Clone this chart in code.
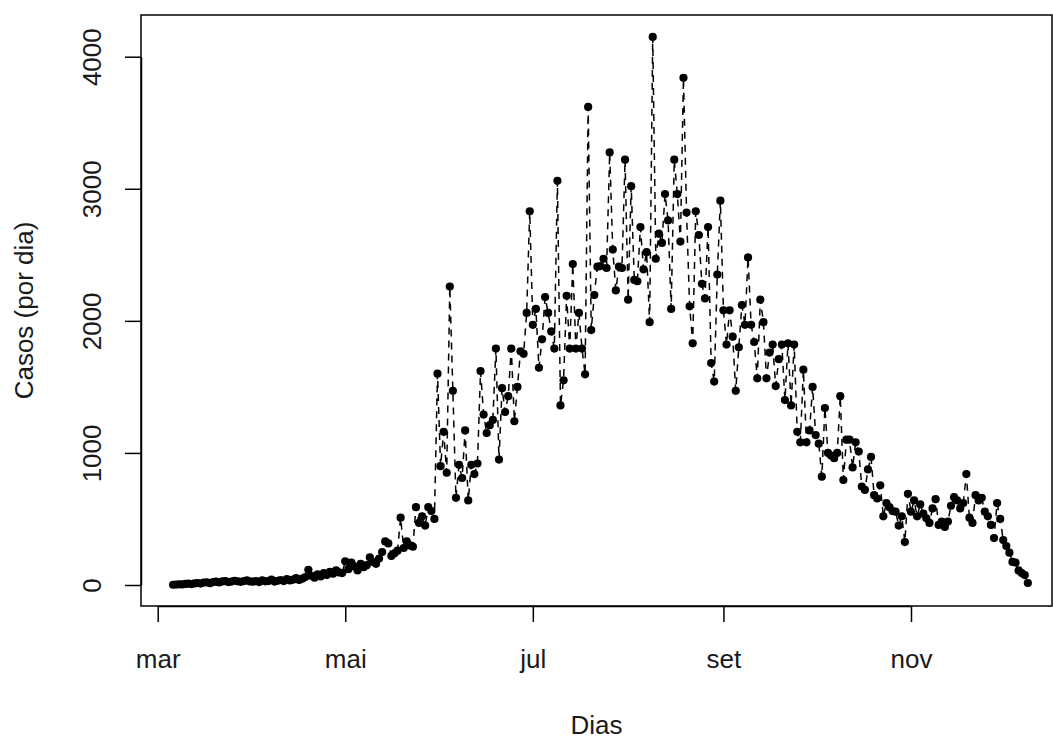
<!DOCTYPE html>
<html>
<head>
<meta charset="utf-8">
<script src="https://cdn.jsdelivr.net/npm/d3@7"></script>
<style>
  body { margin: 0; background: #fff; }
  text { font-family: "Liberation Sans", Arial, sans-serif; }
</style>
</head>
<body>
<div id="chart"></div>
<script>
// daily cases, one array per month (march starts on the 6th)
let mar = [2, 3, 5, 4, 8, 10, 7, 12, 15, 11, 18, 20, 14, 22, 25, 19, 27, 30, 22, 26, 32, 28, 24, 30, 35, 27]
let abr = [25, 30, 22, 35, 28, 30, 40, 26, 32, 38, 30, 45, 35, 40, 52, 38, 48, 60, 115, 70, 55, 80, 65, 90, 75, 100, 85, 110, 95, 90]
let mai = [180, 120, 170, 140, 110, 160, 135, 150, 210, 175, 160, 200, 250, 330, 315, 220, 240, 260, 510, 280, 330, 300, 290, 590, 470, 520, 450, 590, 560, 500, 1600]
let jun = [900, 1160, 850, 2260, 1470, 660, 910, 810, 1170, 640, 910, 840, 920, 1620, 1290, 1150, 1210, 1250, 1790, 950, 1490, 1310, 1430, 1790, 1240, 1500, 1770, 1750, 2060, 2830]
let jul = [1970, 2090, 1645, 1860, 2180, 2060, 1920, 1790, 3060, 1360, 1550, 2190, 1790, 2430, 1790, 2060, 1790, 1595, 3620, 1930, 2195, 2410, 2415, 2470, 2400, 3275, 2540, 2230, 2410, 2400, 3220]
let ago = [2160, 3020, 2310, 2300, 2710, 2390, 2520, 1990, 4150, 2470, 2660, 2590, 2960, 2760, 2090, 3220, 2960, 2600, 3840, 2820, 2110, 1830, 2830, 2650, 2280, 2170, 2710, 1680, 1540, 2350, 2910]
let set = [2080, 1820, 2080, 1880, 1470, 1800, 2120, 1970, 2480, 1970, 1840, 1565, 2160, 1990, 1565, 1760, 1820, 1506, 1710, 1820, 1400, 1830, 1360, 1820, 1160, 1080, 1630, 1080, 1170, 1500]
let out = [1135, 1070, 820, 1340, 1000, 980, 960, 1000, 1430, 795, 1100, 1100, 890, 1080, 1010, 745, 720, 875, 970, 680, 655, 755, 520, 620, 590, 560, 555, 450, 520, 325, 690]
let nov = [555, 640, 520, 610, 540, 505, 470, 580, 650, 455, 480, 440, 480, 600, 665, 640, 580, 620, 840, 510, 470, 680, 640, 660, 555, 520, 455, 355, 620, 500]
let dez = [340, 295, 245, 175, 170, 110, 90, 75, 15]

let monthStarts = [
  [new Date(2020, 2, 6), mar],
  [new Date(2020, 3, 1), abr],
  [new Date(2020, 4, 1), mai],
  [new Date(2020, 5, 1), jun],
  [new Date(2020, 6, 1), jul],
  [new Date(2020, 7, 1), ago],
  [new Date(2020, 8, 1), set],
  [new Date(2020, 9, 1), out],
  [new Date(2020, 10, 1), nov],
  [new Date(2020, 11, 1), dez]
]

let tickDates = [new Date(2020, 2, 1), new Date(2020, 4, 1), new Date(2020, 6, 1), new Date(2020, 8, 1), new Date(2020, 10, 1)]
let tickLabels = ['mar', 'mai', 'jul', 'set', 'nov']
let yTicks = [0, 1000, 2000, 3000, 4000]

let datapoints = []
monthStarts.forEach(function(m) {
  m[1].forEach(function(v, i) {
    datapoints.push({ date: d3.timeDay.offset(m[0], i), cases: v })
  })
})

// plot box
let width = 1053
let height = 740
let box = { left: 141, top: 15, right: 1052, bottom: 606 }
let fontSize = 26
let textColor = '#1a1a1a'

let svg = d3
  .select('#chart')
  .append('svg')
  .attr('width', width)
  .attr('height', height)

let xPositionScale = d3
  .scaleTime()
  .domain([tickDates[0], tickDates[4]])
  .range([157.7, 911])

let yPositionScale = d3
  .scaleLinear()
  .domain([0, 4000])
  .range([585, 56.7])

let line = d3
  .line()
  .x(d => xPositionScale(d.date))
  .y(d => yPositionScale(d.cases))

svg
  .append('path')
  .datum(datapoints)
  .attr('d', line)
  .attr('fill', 'none')
  .attr('stroke', '#000')
  .attr('stroke-width', 1.5)
  .attr('stroke-dasharray', '7,6')

svg
  .selectAll('.point')
  .data(datapoints)
  .enter()
  .append('circle')
  .attr('class', 'point')
  .attr('cx', d => xPositionScale(d.date))
  .attr('cy', d => yPositionScale(d.cases))
  .attr('r', 4.1)
  .attr('fill', '#000')

svg
  .append('rect')
  .attr('x', box.left)
  .attr('y', box.top)
  .attr('width', box.right - box.left)
  .attr('height', box.bottom - box.top)
  .attr('fill', 'none')
  .attr('stroke', '#000')
  .attr('stroke-width', 1.5)

// axes
let xAxis = d3
  .axisBottom(xPositionScale)
  .tickValues(tickDates)
  .tickFormat((d, i) => tickLabels[i])
  .tickSize(16)
  .tickSizeOuter(0)

let xg = svg
  .append('g')
  .attr('class', 'axis x-axis')
  .attr('transform', `translate(0,${box.bottom})`)
  .call(xAxis)

xg.selectAll('path, line').attr('stroke', '#000').attr('stroke-width', 1.5)
xg.selectAll('text')
  .attr('y', 62)
  .attr('dy', 0)
  .attr('font-size', fontSize)
  .attr('fill', textColor)
  .attr('font-family', '"Liberation Sans", Arial, sans-serif')

let yAxis = d3
  .axisLeft(yPositionScale)
  .tickValues(yTicks)
  .tickFormat(d3.format('d'))
  .tickSize(16)
  .tickSizeOuter(0)

let yg = svg
  .append('g')
  .attr('class', 'axis y-axis')
  .attr('transform', `translate(${box.left},0)`)
  .call(yAxis)

yg.selectAll('path, line').attr('stroke', '#000').attr('stroke-width', 1.5)
yg.selectAll('text')
  .attr('transform', 'rotate(-90)')
  .attr('x', 0)
  .attr('y', -40)
  .attr('dy', 0)
  .attr('text-anchor', 'middle')
  .attr('font-size', fontSize)
  .attr('fill', textColor)
  .attr('font-family', '"Liberation Sans", Arial, sans-serif')

// titles
svg
  .append('text')
  .text('Dias')
  .attr('x', (box.left + box.right) / 2)
  .attr('y', 734)
  .attr('text-anchor', 'middle')
  .attr('font-size', fontSize)
  .attr('fill', textColor)

svg
  .append('text')
  .text('Casos (por dia)')
  .attr('transform', `translate(33,${(box.top + box.bottom) / 2}) rotate(-90)`)
  .attr('text-anchor', 'middle')
  .attr('font-size', fontSize)
  .attr('fill', textColor)
</script>
</body>
</html>
